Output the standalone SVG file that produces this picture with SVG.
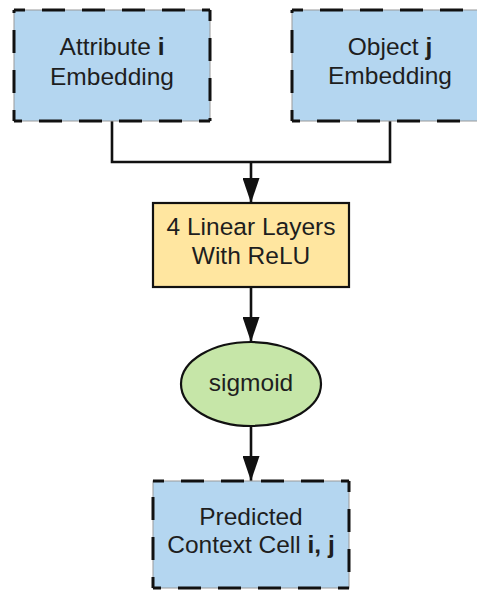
<svg xmlns="http://www.w3.org/2000/svg" width="477" height="591" viewBox="0 0 477 591">
  <style>
    .lbl { font-family: "Liberation Sans", Arial, sans-serif; font-size: 24.5px; fill: #1e1e1e; text-anchor: middle; }
    .b { font-weight: bold; }
    .dbox { fill: #b4d6f0; stroke: #9a9a9a; stroke-width: 1; }
    .dash { fill: none; stroke: #111; stroke-width: 3; stroke-dasharray: 23 17; stroke-dashoffset: 12; }
    .conn { fill: none; stroke: #111; stroke-width: 2.6; }
  </style>
  <defs>
    <marker id="arr" markerUnits="userSpaceOnUse" markerWidth="25" markerHeight="17" refX="25" refY="8.5" orient="auto" viewBox="0 0 25 17">
      <path d="M0,0 L25,8.5 L0,17 Z" fill="#111"/>
    </marker>
  </defs>
  <g id="connectors">
    <path class="conn" d="M112,121 V162 H390 V121"/>
    <path class="conn" d="M251,162 V203" marker-end="url(#arr)"/>
    <path class="conn" d="M251,287 V342" marker-end="url(#arr)"/>
    <path class="conn" d="M251,426 V481" marker-end="url(#arr)"/>
  </g>
  <g id="attribute">
    <rect class="dbox" x="14" y="10" width="196" height="111"/>
    <path class="dash" d="M14,10 H210 M210,10 V121 M210,121 H14 M14,121 V10"/>
    <text class="lbl" x="112" y="55">Attribute <tspan class="b">i</tspan></text>
    <text class="lbl" x="112" y="85">Embedding</text>
  </g>
  <g id="object">
    <rect class="dbox" x="292" y="10" width="196" height="111"/>
    <path class="dash" d="M292,10 H488 M488,10 V121 M488,121 H292 M292,121 V10"/>
    <text class="lbl" x="390" y="55">Object <tspan class="b">j</tspan></text>
    <text class="lbl" x="390" y="84">Embedding</text>
  </g>
  <g id="linear">
    <rect x="153" y="203" width="196" height="84" fill="#ffe6a0" stroke="#111" stroke-width="2.2"/>
    <text class="lbl" x="251" y="235">4 Linear Layers</text>
    <text class="lbl" x="251" y="264">With ReLU</text>
  </g>
  <g id="sigmoid">
    <ellipse cx="251" cy="384" rx="70" ry="42" fill="#c6e6a8" stroke="#111" stroke-width="2.2"/>
    <text class="lbl" x="251" y="391">sigmoid</text>
  </g>
  <g id="predicted">
    <rect class="dbox" x="153" y="481" width="196" height="107"/>
    <path class="dash" d="M153,481 H349 M349,481 V588 M349,588 H153 M153,588 V481"/>
    <text class="lbl" x="251" y="525">Predicted</text>
    <text class="lbl" x="251" y="553">Context Cell <tspan class="b">i, j</tspan></text>
  </g>
</svg>
